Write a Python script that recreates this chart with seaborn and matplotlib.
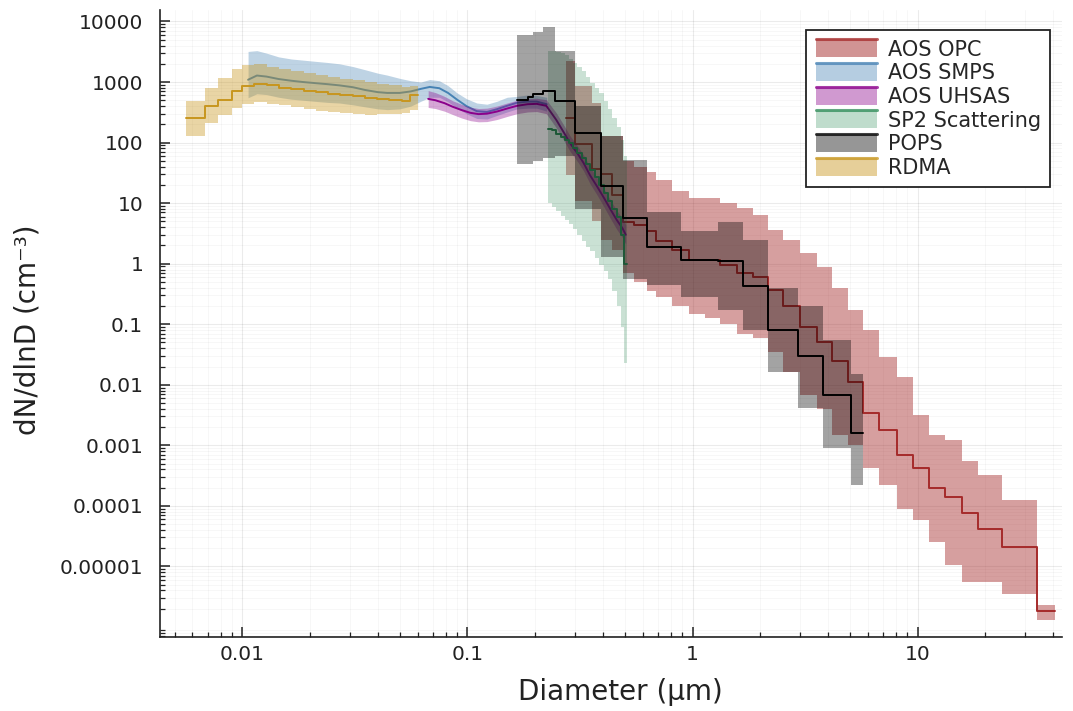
import matplotlib

matplotlib.use("Agg")
import matplotlib.pyplot as plt
import pandas as pd
import seaborn as sns
from matplotlib.legend_handler import HandlerBase
from matplotlib.lines import Line2D
from matplotlib.patches import Rectangle
from matplotlib.ticker import FixedFormatter, FixedLocator, LogLocator, NullFormatter

# ---- data -------------------------------------------------------------------

# AOS OPC: bin edges (um) and dN/dlnD per bin (median, upper, lower)
opc_edges = [0.275, 0.30, 0.357, 0.39, 0.44, 0.49, 0.55, 0.625, 0.69, 0.81, 0.96,
             1.13, 1.33, 1.57, 1.86, 2.17, 2.53, 3.0, 3.56, 4.15, 4.88, 5.74,
             6.75, 8.09, 9.51, 11.2, 13.2, 15.8, 18.5, 23.6, 34.0, 40.8]
opc_mid = [250, 95, 36, 30, 13.6, 4.8, 4.3, 3.5, 2.4, 1.7, 1.15,
           1.15, 0.95, 0.7, 0.6, 0.37, 0.2, 0.09, 0.05, 0.025, 0.011,
           0.0034, 0.0018, 0.0007, 0.00042, 0.0002, 0.00014, 7.5e-5, 4.2e-5, 2.1e-5, 1.8e-6]
opc_hi = [2200, 850, 450, 130, 126, 50, 40, 33, 24, 16, 12,
          12, 10, 8.3, 6.4, 3.6, 2.5, 1.5, 0.89, 0.4, 0.17,
          0.08, 0.029, 0.0135, 0.0032, 0.0015, 0.0012, 0.00054, 0.00032, 0.000125, 2.3e-6]
opc_lo = [29, 11, 5, 2.5, 1.7, 0.7, 0.5, 0.35, 0.28, 0.2, 0.15,
          0.125, 0.1, 0.07, 0.06, 0.035, 0.016, 0.0068, 0.004, 0.0015, 0.001,
          0.00042, 0.00022, 9e-5, 5.8e-5, 2.5e-5, 1.04e-5, 5.5e-6, 5.5e-6, 3.5e-6, 1.3e-6]

# AOS SMPS: smooth curve
smps_d = [0.0106, 0.0116, 0.0128, 0.0145, 0.0165, 0.0186, 0.021, 0.024, 0.027, 0.031,
          0.035, 0.040, 0.044, 0.050, 0.056, 0.062, 0.068, 0.075, 0.082, 0.090,
          0.099, 0.110, 0.122, 0.135, 0.150, 0.166, 0.185, 0.203, 0.225]
smps_mid = [1090, 1280, 1230, 1120, 1050, 1000, 960, 920, 880, 820,
            740, 680, 660, 660, 700, 770, 830, 790, 660, 510,
            400, 330, 320, 355, 405, 455, 475, 475, 430]
smps_hi = [3200, 3300, 3000, 2600, 2400, 2300, 2200, 2100, 2000, 1800,
           1600, 1400, 1300, 1150, 1050, 1000, 1100, 1050, 870, 660,
           530, 450, 430, 480, 560, 580, 610, 600, 560]
smps_lo = [550, 640, 620, 560, 520, 500, 480, 460, 450, 420,
           390, 360, 350, 360, 400, 480, 560, 560, 470, 370,
           300, 250, 245, 280, 320, 360, 370, 370, 330]

# AOS UHSAS: smooth curve
uhsas_d = [0.0669, 0.072, 0.079, 0.086, 0.094, 0.103, 0.112, 0.122, 0.135, 0.150,
           0.166, 0.185, 0.203, 0.224, 0.248, 0.27, 0.2853, 0.31, 0.328, 0.35,
           0.377, 0.405, 0.4335, 0.46, 0.488, 0.505]
uhsas_mid = [527, 500, 448, 390, 345, 310, 295, 300, 325, 365,
             405, 430, 436, 405, 237, 140, 98, 64, 46, 29,
             18.7, 12, 7.7, 5.3, 3.85, 3.0]
uhsas_hi = [720, 670, 580, 490, 430, 385, 365, 370, 400, 450,
            500, 530, 540, 510, 310, 185, 130, 85, 62, 40,
            26, 17, 11, 7.6, 5.6, 4.4]
uhsas_lo = [380, 365, 330, 290, 255, 230, 220, 222, 240, 270,
            300, 320, 325, 300, 175, 103, 72, 47, 34, 21,
            13.5, 8.5, 5.4, 3.7, 2.7, 2.1]

# SP2 scattering: bins
sp2_edges = [0.228, 0.238, 0.248, 0.259, 0.270, 0.282, 0.295, 0.308, 0.322, 0.337,
             0.352, 0.368, 0.385, 0.403, 0.421, 0.440, 0.460, 0.481, 0.497, 0.510]
sp2_mid = [170, 160, 140, 125, 111, 98, 80, 67, 55, 44,
           35.5, 27, 20, 14.6, 11, 8, 6, 3.0, 1.0]
sp2_hi = [3200, 3200, 3100, 3000, 2800, 2400, 2100, 1800, 1500, 1200,
          960, 800, 655, 480, 360, 250, 180, 110, 60]
sp2_lo = [10, 8.5, 7.3, 6.2, 5.3, 4.5, 3.7, 3.0, 2.4, 1.9,
          1.6, 1.25, 0.95, 0.75, 0.55, 0.35, 0.2, 0.09, 0.023]

# POPS: bins
pops_edges = [0.1665, 0.186, 0.196, 0.217, 0.245, 0.300, 0.392, 0.49, 0.625, 0.89,
              1.30, 1.68, 2.17, 2.94, 3.8, 5.08, 5.74]
pops_mid = [508, 562, 638, 724, 494, 143, 19.5, 5.6, 1.9, 1.15,
            1.1, 0.42, 0.08, 0.03, 0.0068, 0.0016]
pops_hi = [6000, 6000, 6600, 8000, 3200, 400, 126, 51, 7.2, 3.5,
           4.9, 2.5, 0.4, 0.2, 0.055, 0.015]
pops_lo = [45, 45, 50, 55, 60, 8, 1.3, 0.55, 0.45, 0.285,
           0.17, 0.08, 0.016, 0.0041, 0.0009, 0.00022]

# RDMA: bins
rdma_edges = [0.0056, 0.0068, 0.0078, 0.0090, 0.0100, 0.0113, 0.0128, 0.0145, 0.0165, 0.0187,
              0.0212, 0.0240, 0.0272, 0.0309, 0.0350, 0.0397, 0.0450, 0.0510, 0.0556, 0.0600]
rdma_mid = [250, 395, 510, 700, 850, 920, 880, 800, 760, 720,
            680, 640, 610, 580, 550, 520, 500, 490, 620]
rdma_hi = [480, 790, 1160, 1630, 1900, 1950, 1800, 1650, 1500, 1400,
           1300, 1200, 1130, 1060, 1000, 940, 880, 820, 850]
rdma_lo = [126, 210, 290, 372, 430, 460, 440, 410, 380, 360,
           335, 320, 305, 295, 290, 295, 300, 310, 340]

ytick_values = [1e4, 1e3, 1e2, 1e1, 1, 1e-1, 1e-2, 1e-3, 1e-4, 1e-5]
ytick_labels = ["10000", "1000", "100", "10", "1", "0.1", "0.01", "0.001", "0.0001", "0.00001"]
xtick_values = [0.01, 0.1, 1, 10]
xtick_labels = ["0.01", "0.1", "1", "10"]

# name, kind, x, mid, hi, lo, line colour, fill alpha (drawn in this order)
series = [
    ("AOS OPC", "step", opc_edges, opc_mid, opc_hi, opc_lo, "#a52a2a", 0.45),
    ("AOS SMPS", "line", smps_d, smps_mid, smps_hi, smps_lo, "#4682b4", 0.35),
    ("AOS UHSAS", "line", uhsas_d, uhsas_mid, uhsas_hi, uhsas_lo, "#8b008b", 0.35),
    ("SP2 Scattering", "step", sp2_edges, sp2_mid, sp2_hi, sp2_lo, "#2e8b57", 0.25),
    ("POPS", "step", pops_edges, pops_mid, pops_hi, pops_lo, "#000000", 0.36),
    ("RDMA", "step", rdma_edges, rdma_mid, rdma_hi, rdma_lo, "#c8961e", 0.4),
]


class BandKey:
    def __init__(self, color, alpha):
        self.color = color
        self.alpha = alpha


class BandHandler(HandlerBase):
    """Ribbon-style legend key: filled box with the line along its top edge."""

    def create_artists(self, legend, orig_handle, xdescent, ydescent, width, height, fontsize, trans):
        rect = Rectangle((-xdescent, -ydescent), width, height, facecolor=orig_handle.color,
                         alpha=orig_handle.alpha, lw=0, transform=trans)
        top = height - ydescent
        line = Line2D([-xdescent, -xdescent + width], [top, top], color=orig_handle.color,
                      lw=2.2, alpha=0.75, transform=trans)
        return [rect, line]


sns.set_theme(style="white")
plt.rcParams["font.family"] = ["DejaVu Sans"]

fig = plt.figure(figsize=(10.73, 7.11), dpi=100)
ax = fig.add_axes([0.149, 0.104, 0.841, 0.882])
ax.set_xscale("log")
ax.set_yscale("log")

# each series: ribbon first, then its line, stacked in legend order
z = 2
for name, kind, xs, mid, hi, lo, color, alpha in series:
    if kind == "step":
        # repeat last value so the final bin is closed at its upper edge
        y_mid = mid + mid[-1:]
        y_hi = hi + hi[-1:]
        y_lo = lo + lo[-1:]
        ax.fill_between(xs, y_lo, y_hi, step="post", color=color, alpha=alpha, lw=0, zorder=z)
        df = pd.DataFrame({"d": xs, "n": y_mid})
        sns.lineplot(data=df, x="d", y="n", ax=ax, color=color, lw=1.4, zorder=z + 1,
                     drawstyle="steps-post", estimator=None, sort=False)
    else:
        ax.fill_between(xs, lo, hi, color=color, alpha=alpha, lw=0, zorder=z)
        df = pd.DataFrame({"d": xs, "n": mid})
        sns.lineplot(data=df, x="d", y="n", ax=ax, color=color, lw=1.4, zorder=z + 1,
                     estimator=None, sort=False)
    z += 2

ax.set_xlim(0.0043, 43.9)
ax.set_ylim(6.8e-7, 1.55e4)

ax.xaxis.set_major_locator(FixedLocator(xtick_values))
ax.xaxis.set_major_formatter(FixedFormatter(xtick_labels))
ax.xaxis.set_minor_locator(LogLocator(base=10, subs=range(2, 10), numticks=20))
ax.xaxis.set_minor_formatter(NullFormatter())
ax.yaxis.set_major_locator(FixedLocator(ytick_values))
ax.yaxis.set_major_formatter(FixedFormatter(ytick_labels))
ax.yaxis.set_minor_locator(LogLocator(base=10, subs=range(2, 10), numticks=30))
ax.yaxis.set_minor_formatter(NullFormatter())

ax.grid(True, which="major", color="#000000", alpha=0.08, lw=0.8)
ax.grid(True, which="minor", color="#000000", alpha=0.04, lw=0.6)
ax.set_axisbelow(True)

for side in ("top", "right"):
    ax.spines[side].set_visible(False)
for side in ("left", "bottom"):
    ax.spines[side].set_color("#222222")
    ax.spines[side].set_linewidth(1.2)
    ax.spines[side].set_zorder(20)

ax.tick_params(which="major", direction="in", length=7, width=1.1, color="#222222",
               labelsize=14.5, labelcolor="#222222")
ax.tick_params(which="minor", direction="in", length=3.5, width=0.9, color="#222222")
ax.tick_params(axis="y", which="major", pad=12)
ax.tick_params(axis="x", which="major", pad=6)
ax.tick_params(left=True, bottom=True, which="both")

ax.set_xlabel("Diameter (µm)", fontsize=20, color="#222222")
ax.set_ylabel("dN/dlnD (cm⁻³)", fontsize=20, color="#222222")
ax.xaxis.set_label_coords(0.51, -0.066)
ax.yaxis.set_label_coords(-0.131, 0.49)

handles = [BandKey(s[6], s[7] + 0.05) for s in series]
labels = [s[0] for s in series]
leg = ax.legend(handles, labels, handler_map={BandKey: BandHandler()},
                loc="upper right", bbox_to_anchor=(1050 / 1073, 1 - 30 / 711),
                bbox_transform=fig.transFigure, borderaxespad=0, fontsize=15,
                frameon=True, fancybox=False, framealpha=1, edgecolor="#222222",
                handlelength=2.95, handleheight=0.95, handletextpad=0.5,
                labelspacing=0.17, borderpad=0.45)
leg.get_frame().set_linewidth(1.3)
leg.set_zorder(30)

fig.savefig("out.png", dpi=100)
plt.close(fig)
